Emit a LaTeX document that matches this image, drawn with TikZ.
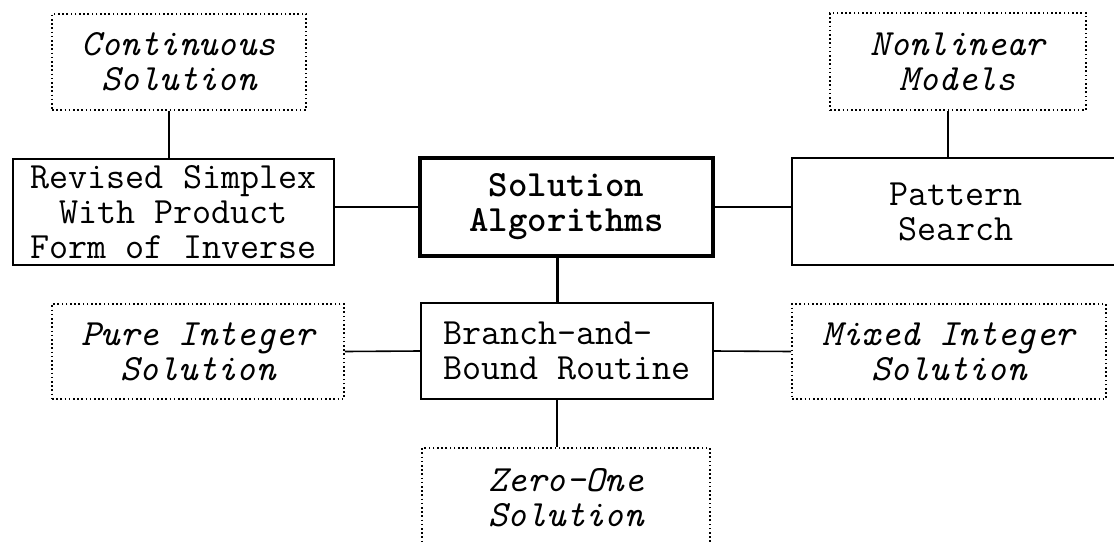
\documentclass[tikz,border=0pt]{standalone}
\usepackage{fontspec}
\tikzset{
  plainbox/.style={draw, line width=1.6pt, inner sep=0pt, align=center,
    font=\ttfamily\fontsize{37}{35}\selectfont},
  mainbox/.style={plainbox, line width=3.2pt,
    font=\ttfamily\bfseries\fontsize{37}{35}\selectfont},
  dotbox/.style={plainbox, line width=1.8pt, dash pattern=on 1.6pt off 2.6pt,
    font=\ttfamily\itshape\fontsize{37}{35}\selectfont},
  link/.style={line width=1.6pt},
  mainlink/.style={line width=2.8pt}
}
\begin{document}
\begin{tikzpicture}[x=1pt,y=-1pt]
    \clip (0,0) rectangle (1114,541);
    % top row
    \node[dotbox, minimum width=254pt, minimum height=96pt] (cont) at (179,62) {Continuous\\Solution};
    \node[dotbox, minimum width=256pt, minimum height=97pt] (nlin) at (958,61.5) {Nonlinear\\Models};
    % algorithms row
    \node[plainbox, minimum width=321pt, minimum height=106pt] (rev) at (173.5,212) {Revised Simplex\\With Product\\Form of Inverse};
    \node[mainbox, minimum width=293pt, minimum height=98pt] (sol) at (566.5,207) {Solution\\Algorithms};
    \node[plainbox, minimum width=328pt, minimum height=107pt] (pat) at (956,211.5) {Pattern\\Search};
    % integer row
    \node[dotbox, minimum width=292pt, minimum height=95pt] (pure) at (198,351.5) {Pure Integer\\Solution};
    \node[plainbox, align=left, minimum width=292pt, minimum height=96pt] (bb) at (567,351) {Branch-and-\\Bound Routine};
    \node[dotbox, minimum width=314pt, minimum height=95pt] (mix) at (949,351.5) {Mixed Integer\\Solution};
    \node[dotbox, minimum width=288pt, minimum height=100pt] (zero) at (566,498) {Zero-One\\Solution};
    % connectors
    \draw[mainlink] (sol.west) -- (sol.west -| rev.east);
    \draw[mainlink] (sol.east) -- (sol.east -| pat.west);
    \draw[mainlink] ([xshift=-9pt]sol.south) -- ([xshift=-9pt]sol.south |- bb.north);
    \draw[link] ([xshift=-10pt]cont.south) -- ([xshift=-10pt]cont.south |- rev.north);
    \draw[link] ([xshift=-10pt]nlin.south) -- ([xshift=-10pt]nlin.south |- pat.north);
    \draw[link] (bb.west) -- (pure.east);
    \draw[link] (bb.east) -- (mix.west);
    \draw[link] ([xshift=-10pt]bb.south) -- ([xshift=-10pt]bb.south |- zero.north);
\end{tikzpicture}
\end{document}
